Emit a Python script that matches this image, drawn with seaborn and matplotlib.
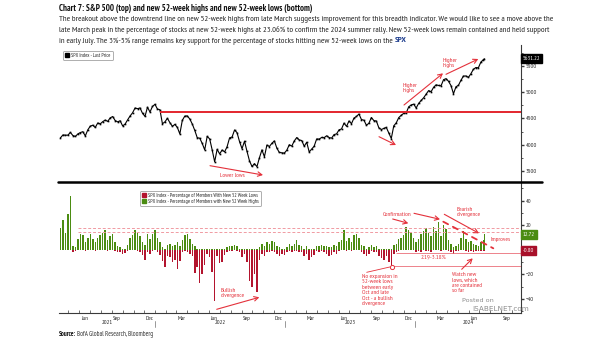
import numpy as np
import pandas as pd
import matplotlib
matplotlib.use("Agg")
import matplotlib.pyplot as plt
import matplotlib.dates as mdates
from matplotlib import font_manager as fm
from matplotlib.lines import Line2D
from matplotlib.patches import Patch, FancyArrowPatch
from matplotlib.ticker import MultipleLocator, FixedLocator
import matplotlib.transforms as mtransforms
import seaborn as sns

# ---------------- data (weekly, Fridays from 2021-04-09, last point 2024-07-15) -------------
spx_2021 = [4129, 4185, 4180, 4181,
            4233, 4174, 4156, 4204,
            4230, 4247, 4166, 4281,
            4352, 4370, 4327, 4412, 4395,
            4437, 4468, 4442, 4509,
            4535, 4459, 4433, 4455,
            4357, 4391, 4471, 4545, 4605,
            4697, 4683, 4698, 4595,
            4538, 4712, 4620, 4726, 4766]
spx_2022 = [4677, 4663, 4398, 4432,
            4501, 4419, 4349, 4385,
            4329, 4204, 4463, 4543,
            4546, 4488, 4393, 4272, 4132,
            4123, 4024, 3901, 4158,
            4109, 3901, 3675, 3912,
            3825, 3899, 3863, 3962, 4130,
            4145, 4280, 4228, 4058,
            3924, 4067, 3873, 3693, 3586,
            3640, 3583, 3752, 3901,
            3771, 3993, 3965, 4026,
            4072, 3934, 3852, 3845, 3840]
spx_2023 = [3895, 3999, 3973, 4071,
            4136, 4090, 4079, 3970,
            4046, 3862, 3917, 3971, 4109,
            4105, 4137, 4133, 4169,
            4136, 4124, 4192, 4205,
            4282, 4299, 4410, 4348, 4450,
            4399, 4505, 4536, 4582,
            4478, 4464, 4370, 4406,
            4516, 4457, 4450, 4320, 4288,
            4309, 4327, 4224, 4117,
            4358, 4415, 4514, 4559,
            4595, 4604, 4719, 4755, 4770]
spx_2024 = [4697, 4784, 4840, 4891,
            4959, 5027, 5006, 5089,
            5137, 5124, 5117, 5234, 5254,
            5204, 5123, 4967, 5100,
            5128, 5223, 5303, 5305, 5278,
            5347, 5431, 5465, 5460,
            5567, 5615, 5631.22]

highs_2021 = [18, 24, 14, 29,
              44, 3, 2, 9,
              13, 12, 6, 10,
              13, 9, 6, 10, 12,
              14, 16, 8, 11,
              13, 6, 3, 2,
              1, 1, 4, 10, 12,
              16, 14, 11, 6,
              4, 13, 9, 13, 16]
highs_2022 = [10, 6, 2, 1,
              4, 5, 3, 4,
              6, 3, 8, 12,
              13, 9, 5, 3, 1,
              1, 0.5, 0.5, 1,
              1, 0.5, 0.3, 1,
              1, 1, 1, 2, 3,
              3, 4, 3, 1,
              0.5, 1, 0.5, 0.3, 0.3,
              0.5, 0.3, 2, 5,
              3, 6, 5, 7,
              6, 3, 2, 1, 1]
highs_2023 = [2, 5, 3, 5,
              8, 4, 3, 1,
              3, 1, 1, 1, 3,
              3, 4, 3, 3,
              2, 2, 4, 3,
              6, 8, 16, 7, 10,
              6, 12, 13, 10,
              4, 3, 1, 2,
              4, 2, 3, 1, 1,
              1, 1, 0.5, 0.3,
              4, 5, 9, 10,
              12, 19, 16, 14, 10]
highs_2024 = [6, 9, 13, 15,
              18, 14, 11, 19,
              15, 23, 11, 20, 17,
              8, 5, 2, 3,
              5, 10, 15, 9, 6,
              7, 5, 4, 3,
              6, 8, 12.72]

lows_2021 = [-0.5, -0.3, -0.5, -0.3,
             -0.5, -1.5, -1, -0.5,
             -0.3, -0.3, -1, -0.3,
             -0.3, -0.5, -1, -0.5, -0.5,
             -0.3, -0.3, -1, -0.3,
             -0.3, -1, -2, -1.5,
             -3, -2.5, -1, -0.5, -0.5,
             -0.5, -1, -1.5, -4,
             -8, -1.5, -3, -1, -0.5]
lows_2022 = [-2, -4, -9, -14,
             -5, -6, -10, -8,
             -16, -9, -2, -1,
             -1.5, -3, -5, -19, -14,
             -27, -20, -12, -3,
             -6, -18, -42, -5,
             -11, -10, -4, -2, -1,
             -1, -0.5, -1, -2,
             -6, -3, -10, -25, -30,
             -20, -34, -8, -3,
             -5, -2, -1.5, -1,
             -1.5, -3, -5, -3, -4]
lows_2023 = [-2, -1, -2, -1,
             -1, -2, -2, -5,
             -3, -8, -6, -4, -1,
             -2, -1, -2, -3,
             -5, -4, -2, -3,
             -1, -0.5, -0.3, -1, -0.5,
             -1, -0.3, -0.3, -0.5,
             -2, -3, -5, -3,
             -1, -2, -2, -5, -7,
             -8, -5, -10, -13,
             -3, -2, -1, -0.5,
             -0.5, -0.5, -0.3, -0.3, -0.5]
lows_2024 = [-1.5, -1, -1.5, -0.5,
             -1, -1, -1.5, -0.5,
             -0.5, -0.5, -1, -0.3, -0.5,
             -1, -2, -3, -1,
             -1, -0.5, -0.3, -1, -1.5,
             -1, -1.5, -1, -1,
             -1, -1, -0.8]

price_ticks = [3500, 4000, 4500, 5000, 5500]
pct_ticks = [-40, -20, 20, 40]
month_labels = ["Mar", "Jun", "Sep", "Dec"]

spx = spx_2021 + spx_2022 + spx_2023 + spx_2024
highs = highs_2021 + highs_2022 + highs_2023 + highs_2024
lows = lows_2021 + lows_2022 + lows_2023 + lows_2024
dates = list(pd.date_range("2021-04-09", periods=171, freq="W-FRI")) + [pd.Timestamp("2024-07-15")]
df = pd.DataFrame({"date": dates, "spx": spx, "highs": highs, "lows": lows})

# ---------------- style ----------------
sns.set_theme(style="white")
available = {f.name for f in fm.fontManager.ttflist}
narrow_prefs = ["Liberation Sans Narrow", "Arial Narrow", "PT Sans Narrow", "Roboto Condensed",
                "Fira Sans Condensed", "Archivo Narrow", "IBM Plex Sans Condensed",
                "Open Sans Condensed", "Encode Sans Condensed", "Barlow Condensed"]
NARROW = next((n for n in narrow_prefs if n in available), "DejaVu Sans")
plt.rcParams["font.family"] = [NARROW, "DejaVu Sans"]

W, H = 605, 341
fig = plt.figure(figsize=(W / 100, H / 100), dpi=100)
fig.patch.set_facecolor("white")
renderer = fig.canvas.get_renderer()


def fx(x):
    return x / W


def fy(y):
    return 1 - y / H


def P(x, y):
    return (fx(x), fy(y))


def fit_size(text, target_px, base, **kw):
    t = fig.text(0, 0, text, fontsize=base, **kw)
    w = t.get_window_extent(renderer=renderer).width
    t.remove()
    return base * target_px / w


L, R = 59, 521
top_t, top_b = 45, 181.7
bot_t, bot_b = 181.7, 313.3
ax1 = fig.add_axes([fx(L), fy(top_b), (R - L) / W, (top_b - top_t) / H])
ax2 = fig.add_axes([fx(L), fy(bot_b), (R - L) / W, (bot_b - bot_t) / H], sharex=ax1)

xmin, xmax = pd.Timestamp("2021-04-05"), pd.Timestamp("2024-10-26")
GREEN = "#4b8c12"
BARRED = "#b3142e"
RED = "#e4313b"
AX = "#3a3a3a"
TICK = 4.4

# ---------------- top: SPX ----------------
sns.lineplot(data=df, x="date", y="spx", ax=ax1, color="black", lw=0.8,
             marker="s", markersize=1.2, markeredgewidth=0)
ax1.hlines(4620, pd.Timestamp("2022-01-14"), xmax, colors="#e3262d", lw=1.4, zorder=3)
ax1.set_xlim(xmin, xmax)
ax1.set_ylim(3297, 5893)
ax1.set_xlabel("")
ax1.set_ylabel("")

# ---------------- bottom: highs / lows ----------------
ax2.bar(df["date"], df["highs"], width=4.2, color=GREEN, linewidth=0)
ax2.bar(df["date"], df["lows"], width=4.2, color=BARRED, linewidth=0)
ax2.set_ylim(-51.7, 55.5)
ax2.hlines([17.5, 14.7], pd.Timestamp("2021-05-28"), xmax, colors="#f09aa2", lw=0.7,
           linestyles=(0, (3, 2)), zorder=3)
ax2.hlines(-2.4, pd.Timestamp("2023-11-10"), xmax, colors="#ea6e78", lw=0.6, zorder=3)
ax2.hlines(-13.3, pd.Timestamp("2023-10-27"), xmax, colors="#ea6e78", lw=0.6, zorder=3)

for ax in (ax1, ax2):
    ax.set_facecolor("white")
    ax.grid(False)
    for s in ("left", "top"):
        ax.spines[s].set_visible(False)
    ax.spines["right"].set_color(AX)
    ax.spines["right"].set_linewidth(0.8)
    ax.yaxis.tick_right()
    ax.tick_params(axis="y", which="major", direction="out", length=2, width=1.0,
                   color=AX, labelsize=TICK, pad=1.5, labelcolor="#222")
    ax.tick_params(axis="y", which="minor", direction="out", length=1.5, width=0.6,
                   color=AX, right=True)
ax1.spines["bottom"].set_visible(False)
ax2.spines["bottom"].set_color(AX)
ax2.spines["bottom"].set_linewidth(0.8)

ax1.yaxis.set_major_locator(FixedLocator(price_ticks))
ax1.yaxis.set_minor_locator(MultipleLocator(250))
ax2.yaxis.set_major_locator(FixedLocator(pct_ticks))
ax2.yaxis.set_minor_locator(MultipleLocator(10))
ax1.tick_params(axis="x", which="both", bottom=False, labelbottom=False)

month_num = {"Mar": 3, "Jun": 6, "Sep": 9, "Dec": 12}
ax2.xaxis.set_major_locator(mdates.MonthLocator(bymonth=[month_num[m] for m in month_labels], bymonthday=15))
ax2.xaxis.set_major_formatter(mdates.DateFormatter("%b"))
ax2.xaxis.set_minor_locator(mdates.MonthLocator())
ax2.tick_params(axis="x", which="major", length=0, labelsize=TICK, pad=1.8, labelcolor="#222")
ax2.tick_params(axis="x", which="minor", direction="in", length=2, width=0.5, color=AX, bottom=True)

# year labels and separators
trans = mtransforms.blended_transform_factory(ax2.transData, fig.transFigure)
years = [2021, 2022, 2023, 2024]
for yr in years:
    a = max(pd.Timestamp(f"{yr}-01-01"), xmin)
    b = min(pd.Timestamp(f"{yr + 1}-01-01"), xmax)
    mid = a + (b - a) / 2
    ax2.text(mdates.date2num(mid), fy(323), str(yr), transform=trans, ha="center",
             va="center", fontsize=TICK, color="#222")
    if yr > 2021:
        fig.add_artist(Line2D([mdates.date2num(a)] * 2, [fy(320.5), fy(326.5)],
                              transform=trans, color="#888", lw=0.6))

# separator between panels
fig.add_artist(Line2D([fx(58), fx(542)], [fy(182.3), fy(182.3)], color="black", lw=1.8))

# right-side value labels
tr1 = mtransforms.blended_transform_factory(ax1.transAxes, ax1.transData)
tr2 = mtransforms.blended_transform_factory(ax2.transAxes, ax2.transData)
ax1.text(1.004, df["spx"].iloc[-1], f"{df['spx'].iloc[-1]:.2f}", transform=tr1, fontsize=4.4,
         color="white", va="center", ha="left", zorder=6,
         bbox=dict(boxstyle="square,pad=0.3", fc="black", ec="black"))
ax2.text(1.004, df["highs"].iloc[-1], f"{df['highs'].iloc[-1]:.2f}", transform=tr2, fontsize=4.4,
         color="white", va="center", ha="left", zorder=6,
         bbox=dict(boxstyle="square,pad=0.35", fc=GREEN, ec=GREEN))
ax2.text(1.004, df["lows"].iloc[-1], f"{df['lows'].iloc[-1]:.2f}", transform=tr2, fontsize=4.4,
         color="white", va="center", ha="left", zorder=6,
         bbox=dict(boxstyle="square,pad=0.35", fc="#a8102a", ec="#a8102a"))

# legends
leg1 = ax1.legend(handles=[Patch(color="black", label="SPX Index - Last Price")],
                  loc="upper left", bbox_to_anchor=P(60, 48), bbox_transform=fig.transFigure,
                  fontsize=3.8, frameon=True, fancybox=True, edgecolor="#9a9a9a",
                  handlelength=0.7, handleheight=0.7, borderpad=0.45, handletextpad=0.5)
leg1.get_frame().set_linewidth(0.7)
leg2 = ax2.legend(handles=[Patch(color=BARRED, label="SPX Index - Percentage of Members With New 52 Week Lows"),
                           Patch(color=GREEN, label="SPX Index - Percentage of Members with New 52 Week Highs")],
                  loc="upper left", bbox_to_anchor=P(137, 188), bbox_transform=fig.transFigure,
                  fontsize=3.8, frameon=True, fancybox=True, edgecolor="#9a9a9a",
                  handlelength=0.7, handleheight=0.7, borderpad=0.45, handletextpad=0.5,
                  labelspacing=0.15)
leg2.get_frame().set_linewidth(0.7)


# ---------------- annotations ----------------
def arrow(x0, y0, x1, y1, head=True, ls="-", lw=0.8):
    style = "->,head_length=3,head_width=1.6" if head else "-"
    fig.add_artist(FancyArrowPatch(P(x0, y0), P(x1, y1), transform=fig.transFigure,
                                   arrowstyle=style, color=RED, lw=lw, linestyle=ls,
                                   shrinkA=0, shrinkB=0, mutation_scale=1))


def note(x, y, s, ha="left", va="center", size=4.6, ls=1.05):
    fig.text(fx(x), fy(y), s, ha=ha, va=va, fontsize=size, color=RED, linespacing=ls)


note(232, 175.5, "Lower lows", ha="center")
arrow(210, 165.7, 263, 175)
arrow(379, 136.7, 396, 145)
note(403, 88, "Higher\nhighs")
arrow(404, 105, 443, 73.3)
note(443, 63, "Higher\nhighs")
arrow(446, 74.3, 478.3, 59)

note(396.7, 214, "Confirmation", ha="center")
arrow(392.7, 219, 408.3, 223.3)
arrow(414, 213.3, 440, 219.3)
note(456.7, 212.3, "Bearish\ndivergence")
arrow(444.3, 214.3, 479, 233.3)
arrow(443.3, 221.7, 493.3, 248.3, head=False, ls=(0, (3, 3)), lw=1.3)
note(490.7, 239.3, "Improves")
note(433.3, 257.3, "2.19-3.18%", ha="center")
note(362, 290, "No expansion in\n52-week lows\nbetween early\nOct and late\nOct - a bullish\ndivergence",
     ls=1.12)
arrow(366.7, 272.3, 390.2, 266.9, head=False, lw=0.6)
fig.add_artist(Line2D([fx(391.7)], [fy(266.7)], marker="o", ms=3, mfc="white", mec=RED, mew=0.7,
                      transform=fig.transFigure))
note(451.7, 282.7, "Watch new\nlows, which\nare contained\nso far", ls=1.12)
arrow(461.7, 269.3, 472.7, 258.3)
note(220.7, 293, "Bullish\ndivergence")
arrow(216.7, 309.3, 259.3, 297.3)

# watermark
fig.text(fx(478), fy(300), "Posted on", ha="center", va="center", fontsize=4.6, color="#8c8c8c",
         family=["DejaVu Sans"])
fig.text(fx(501), fy(309.3), "ISABELNET.com", ha="center", va="center", fontsize=5.2, color="#8c8c8c",
         family=["DejaVu Sans"])

# ---------------- header / footer ----------------
title = "Chart 7: S&P 500 (top) and new 52-week highs and new 52-week lows (bottom)"
ts = fit_size(title, 255, 6, fontweight="bold")
fig.text(fx(59), fy(8.5), title, fontsize=ts, fontweight="bold", ha="left", va="center", color="#111")
body = [
    "The breakout above the downtrend line on new 52-week highs from late March suggests improvement for this breadth indicator. We would like to see a move above the",
    "late March peak in the percentage of stocks at new 52-week highs at 23.06% to confirm the 2024 summer rally. New 52-week lows remain contained and held support",
    "in early July. The 3%-5% range remains key support for the percentage of stocks hitting new 52-week lows on the ",
]
bs = fit_size(body[0], 496, 5.4)
ys = [19.2, 30.0, 40.8]
last = None
for s, y in zip(body, ys):
    last = fig.text(fx(59), fy(y), s, fontsize=bs, ha="left", va="center", color="#222")
bb = last.get_window_extent(renderer=renderer)
fig.text(bb.x1 / fig.bbox.width, fy(ys[-1]), "SPX", fontsize=bs, ha="left", va="center",
         color="#1f3f8f", fontweight="bold")
src_s = fit_size("Source: BofA Global Research, Bloomberg", 94, 5.2)
src = fig.text(fx(59), fy(334.3), "Source:", fontsize=src_s, fontweight="bold", ha="left", va="center",
               color="#111")
bb = src.get_window_extent(renderer=renderer)
fig.text(bb.x1 / fig.bbox.width + 0.002, fy(334.3), "BofA Global Research, Bloomberg", fontsize=src_s,
         ha="left", va="center", color="#333")

fig.savefig("out.png", dpi=100, facecolor="white")
